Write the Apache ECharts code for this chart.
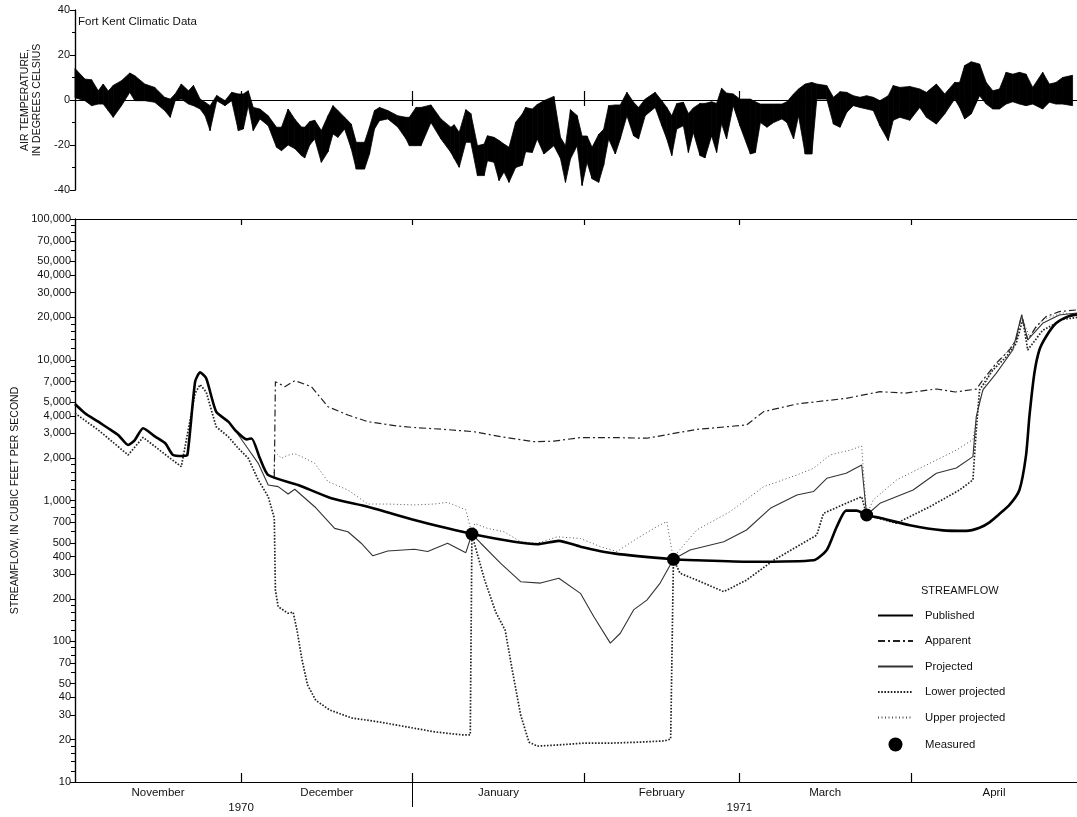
<!DOCTYPE html>
<html>
<head>
<meta charset="utf-8">
<title>Fort Kent streamflow</title>
<script src="https://cdn.jsdelivr.net/npm/echarts@6.0.0/dist/echarts.min.js"></script>
<style>
html, body { margin: 0; padding: 0; background: #fff; }
#main { width: 1077px; height: 817px; }
</style>
</head>
<body>
<div id="main"></div>
<script type="text/javascript">
// x is counted in days from 1 November 1970
var monthEdges = [30, 61, 92, 120, 151];
var monthMids = [15, 45.5, 76.5, 106, 135.5, 166];
var monthNames = ['November', 'December', 'January', 'February', 'March', 'April'];
var yearBreak = [61];
var yearPos = [30, 120];
var yearNames = ['1970', '1971'];

// log axis ticks
var flowLabels = [10, 20, 30, 40, 50, 70, 100, 200, 300, 400, 500, 700, 1000, 2000, 3000, 4000, 5000, 7000,
    10000, 20000, 30000, 40000, 50000, 70000, 100000];
var minorFactors = [1.2, 1.4, 1.6, 1.8, 6, 8, 9];
var decades = [10, 100, 1000, 10000];

// air temperature, daily max / min (deg C)
var tempDay = [0, 1.8, 3.0, 4.2, 5.1, 6.0, 6.9, 8.4, 9.9, 10.8,
    12.6, 14.4, 16.2, 17.2, 18.1, 19.2, 20.5, 21.4, 22.6, 23.5,
    24.4, 25.6, 27.1, 28.3, 29.5, 30.4, 31.3, 32.2, 33.4, 34.9,
    36.4, 37.3, 38.5, 39.7, 40.9, 41.5, 42.4, 43.3, 44.5, 45.7,
    46.6, 47.5, 48.7, 49.9, 50.8, 52.3, 53.2, 54.1, 55.0, 56.5,
    58.3, 59.8, 60.4, 61.6, 62.5, 64.3, 66.1, 67.9, 68.5, 69.4,
    70.6, 71.5, 72.7, 73.9, 74.5, 75.7, 76.6, 77.5, 78.4, 79.6,
    80.8, 81.4, 82.6, 83.5, 84.7, 86.5, 87.7, 88.6, 89.5, 90.7,
    91.6, 92.5, 93.4, 94.6, 95.5, 96.4, 97.6, 98.5, 99.7, 100.9,
    101.8, 103.0, 104.8, 106.0, 106.9, 107.8, 108.7, 109.9, 110.8, 111.7,
    112.9, 113.8, 115.0, 115.9, 116.8, 117.7, 118.9, 120.1, 122.0, 122.9,
    123.8, 125.0, 126.2, 127.7, 128.6, 129.8, 130.7, 131.9, 133.1, 134.0,
    135.8, 137.0, 138.2, 139.4, 140.6, 141.8, 143.0, 144.2, 145.4, 146.9,
    147.8, 149.0, 150.8, 152.6, 153.8, 155.6, 157.1, 158.9, 159.8, 160.7,
    161.9, 163.4, 164.6, 165.8, 167.0, 168.2, 169.4, 170.6, 171.8, 173.0,
    174.8, 176.0, 177.2, 178.4, 180.2];
var tempMax = [14, 9.3, 9, 4.1, 7.1, 4, 6.5, 8.6, 12, 10.8,
    7.1, 5.6, 1.2, 0.4, 2.7, 7.1, 4.1, 6.5, 0.4, -1,
    -2.5, 2, -0.3, 3.4, 2.7, 2.7, 4.1, -3.3, -4, -7,
    -12.1, -12.1, -4, -8.5, -12, -12.1, -9.6, -9, -13.6, -7,
    -2.5, -4.7, -7.7, -10.7, -18.8, -18.8, -12, -4.7, -3.3, -4.7,
    -7, -7.7, -7.7, -3.3, -3.3, -2.2, -8.4, -12.1, -11, -14.4,
    -4.3, -6, -20.3, -19.6, -15.9, -16.6, -18, -19.6, -21, -9.9,
    -6.2, -3.3, -4, -2, -0.3, 1.6, -16.6, -20.3, -4.3, -6.9,
    -16, -16, -21, -15.3, -13, -2.5, -2.2, -2.2, 3.4, -1,
    -3.3, 0.4, 3.4, -0.3, -3.3, -7, -1.6, -1, -6, -3.5,
    -1.5, -1.5, -0.8, -1.5, 5.2, 3.1, 2.7, 0.4, 0.4, -0.8,
    -1.8, -1.8, -1.8, -1.8, -0.8, 2.7, 4.9, 7.1, 7.8, 7.1,
    6.4, 1.2, 3.7, 3.4, 1.9, 1.2, 1.9, 1.2, -0.3, 1.9,
    6.4, 5.6, 6, 4.9, 3.4, 7.1, 2.7, 7.8, 7.8, 15.3,
    17, 16, 7.8, 4.1, 4.9, 12.3, 11.5, 12.3, 11.5, 5.6,
    12.3, 7.1, 7.8, 10, 11];
var tempMin = [1, -0.3, -2.5, -1.8, -1.8, -4.7, -7.7, -2.5, 3.4, -0.3,
    -0.3, -1, -4.7, -7.7, -0.3, 0.4, -1.8, -2.5, -4, -7,
    -13.6, -0.3, -2.5, -0.3, -13.6, -12.9, -2.5, -13.6, -8.4, -11.4,
    -21, -22.5, -20, -21.6, -24.7, -25.7, -20, -17.3, -27.7, -23,
    -15.1, -16.6, -12.9, -21.6, -30.7, -30.7, -24, -12.9, -9.2, -8.4,
    -12, -17.3, -20.3, -20.3, -20.3, -10, -17.3, -23.3, -26, -29.9,
    -18.8, -18.8, -33.6, -33.6, -27, -27.7, -35.8, -32, -36.6, -30,
    -29, -23, -23.3, -17.3, -24, -20.3, -26, -36.6, -26.2, -20.3,
    -38, -27.7, -35, -36.6, -29, -17.3, -24, -17.3, -7, -15.9,
    -17.3, -7, -3.3, -11.4, -17.3, -24.7, -12.9, -11.4, -23.3, -14.4,
    -24.7, -25.7, -15.9, -23.3, -10.4, -17.3, -2.5, -11.4, -24, -23.3,
    -10, -12.1, -10, -8.4, -10, -17.3, -7, -24, -24, 0.4,
    0.4, -10.7, -12.1, -5.5, -2.5, -3.3, -4, -4.7, -11.4, -18,
    -9, -7.7, -9, -3.3, -7.7, -10.7, -6.2, 0.4, -3.3, -8.4,
    -6.2, 1.9, -1.8, -4, -4, -1.8, -0.8, -1.8, -2.5, -1.8,
    -4, -1, -1.8, -1.8, -2.5];

// streamflow, cubic feet per second
var pubDay = [0, 1.8, 4.2, 6.0, 7.8, 9.6, 10.8, 12.3, 14.5, 16.3,
    17.7, 19.5, 20.3, 21.7, 22.6, 23.7, 25.5, 27.7, 28.9, 31.0,
    31.9, 33.4, 34.9, 40.3, 46.3, 52.9, 61.3, 67.3, 71.7, 79.3,
    83.5, 87.4, 91.3, 97.3, 108.1, 112.3, 121.9, 133.4, 135.8, 137.6,
    139.3, 141.2, 143.0, 145.5, 150.8, 156.8, 161.0, 163.4, 165.2, 166.8,
    168.8, 170.6, 171.8, 172.4, 173.3, 174.2, 175.4, 177.2, 179.3, 181];
var pubQ = [4850, 4170, 3630, 3260, 2920, 2480, 2690, 3260, 2840, 2550,
    2106, 2070, 2100, 6990, 8130, 7380, 4280, 3630, 3170, 2720,
    2760, 1995, 1517, 1289, 1037, 903, 727, 634, 578, 509,
    489, 517, 470, 421, 382, 376, 367, 376, 445, 651,
    847, 847, 789, 750, 667, 613, 608, 640, 700, 790,
    930, 1188, 2100, 3940, 8010, 11730, 14580, 18150, 20240, 21000];

var appDay = [36.0, 36.2, 37.9, 39.7, 42.7, 45.7, 49.3, 52.9, 58.3, 61.3,
    66.7, 72.1, 76.9, 82.9, 86.5, 91.3, 97.3, 103.3, 112.3, 121.3,
    124.4, 130.4, 139.3, 145.4, 150.0, 155.6, 159.0, 162.8, 164.0, 166.4,
    168.8, 170.0, 171.0, 172.1, 173.6, 175.4, 177.8, 181];
var appQ = [1480, 6980, 6440, 7100, 6440, 4640, 4050, 3630, 3380, 3300,
    3200, 3080, 2840, 2620, 2640, 2800, 2800, 2770, 3200, 3440,
    4280, 4850, 5320, 5930, 5800, 6200, 5900, 6180, 7180, 9440,
    11730, 13820, 20800, 13820, 17180, 20240, 21970, 22600];

var projDay = [28.9, 31.0, 33.1, 34.9, 36.7, 38.5, 39.7, 43.3, 46.9, 49.3,
    51.7, 53.8, 56.5, 61.3, 63.7, 67.3, 70.6, 71.7, 73.3, 76.9,
    80.5, 84.1, 87.4, 91.3, 93.7, 96.7, 98.5, 100.9, 103.3, 105.7,
    108.1, 111.1, 117.2, 121.3, 125.6, 130.4, 133.4, 135.8, 139.3, 142.1,
    143.0, 145.4, 151.4, 155.6, 159.2, 162.2, 162.8, 164.0, 166.4, 169.4,
    171.0, 172.1, 174.8, 177.8, 181];
var projQ = [3170, 2410, 1837, 1289, 1254, 1112, 1202, 903, 634, 600,
    497, 405, 438, 450, 434, 497, 426, 578, 497, 358,
    265, 259, 280, 219, 150, 97, 114, 167, 196, 259,
    382, 445, 509, 617, 880, 1094, 1157, 1438, 1560, 1786,
    789, 955, 1188, 1560, 1700, 2050, 3940, 6100, 8010, 11730,
    20800, 13820, 18150, 20800, 21500];

var lowDay = [0, 4.2, 9.6, 12.3, 16.8, 19.2, 21.7, 22.6, 23.7, 25.5,
    27.7, 29.5, 31.3, 33.1, 34.9, 36.0, 36.2, 36.7, 38.5, 39.4,
    40.1, 41.0, 42.0, 43.5, 46.0, 50.0, 55.0, 60.0, 65.0, 70.0,
    71.4, 71.7, 72.3, 74.0, 76.0, 77.7, 79.0, 80.5, 82.0, 83.5,
    87.0, 92.0, 97.0, 102.0, 106.5, 107.6, 108.1, 109.3, 112.3, 117.2,
    121.3, 126.2, 130.4, 134.0, 135.2, 139.3, 142.1, 143.0, 148.4, 154.4,
    159.8, 162.2, 162.8, 163.4, 165.8, 168.2, 170.0, 171.2, 172.1, 174.8,
    178.4, 181];
var lowQ = [4170, 3170, 2106, 2810, 2050, 1740, 5780, 6660, 5900, 3340,
    2840, 2350, 1995, 1400, 1064, 750, 231, 176, 158, 161,
    120, 74, 49, 38, 32.5, 28.5, 26.7, 24.6, 22.7, 21.6,
    21.6, 578, 470, 272, 161, 120, 62, 30, 19.2, 18,
    18.3, 18.9, 18.9, 19.2, 19.6, 20.2, 382, 304, 272, 225,
    272, 376, 470, 568, 810, 955, 1064, 789, 689, 903,
    1188, 1400, 3170, 6100, 8450, 10480, 13030, 19300, 11730, 16200,
    19300, 20000];

var upDay = [35.9, 36.1, 37.3, 38.5, 39.7, 41.5, 43.3, 45.7, 49.3, 52.9,
    56.5, 61.3, 64.9, 67.3, 70.6, 71.7, 72.2, 74.5, 77.5, 80.5,
    83.5, 87.1, 91.3, 94.9, 97.9, 101.5, 105.1, 106.9, 108.1, 108.7,
    112.3, 118.3, 124.4, 130.4, 133.4, 136.4, 140.0, 142.1, 143.0, 144.2,
    148.4, 154.4, 159.2, 162.2, 163.4, 165.2, 167.6, 170.0, 171.0, 172.4,
    174.8, 178.4, 181];
var upQ = [1480, 2220, 1995, 2100, 2150, 2000, 1837, 1361, 1188, 944,
    944, 930, 944, 970, 860, 578, 687, 634, 600, 509,
    497, 552, 537, 470, 434, 537, 651, 709, 382, 421,
    617, 832, 1254, 1517, 1694, 2106, 2280, 2440, 789, 1010,
    1400, 1837, 2280, 2710, 5180, 8010, 10480, 13820, 20240, 14580,
    19300, 21500, 21000];

var measDay = [71.7, 108.1, 143.0];
var measQ = [578, 382, 789];

var chart = echarts.init(document.getElementById('main'));
var font = 'Liberation Sans, Arial, sans-serif';
var ink = '#111';

function pairs(xs, ys) {
    return xs.map(function (x, i) { return [x, ys[i]]; });
}
function commas(v) {
    return String(v).replace(/\B(?=(\d{3})+(?!\d))/g, ',');
}
var flowMinor = [];
decades.forEach(function (d) {
    minorFactors.forEach(function (f) { flowMinor.push(Math.round(d * f)); });
});

var axisInk = { lineStyle: { color: '#000', width: 1.2 } };
var noLabel = { show: false };

function monthAxis(grid, pos, len) {
    return {
        type: 'value', gridIndex: grid, position: pos, min: 0, max: 181,
        axisLine: axisInk, splitLine: { show: false },
        axisTick: { customValues: monthEdges, inside: true, length: len, lineStyle: { color: '#000', width: 1.2 } },
        axisLabel: noLabel
    };
}

var xTop0 = monthAxis(0, 'top', 6);
var xBot0 = monthAxis(0, 'bottom', 9);
var xTop1 = monthAxis(1, 'top', 6);
var xBot1 = monthAxis(1, 'bottom', 9);
xBot1.axisLabel = {
    customValues: monthMids, margin: 5, fontSize: 11.5, color: ink, fontFamily: font,
    formatter: function (v) { return monthNames[monthMids.indexOf(v)]; }
};
var xYear = {
    type: 'value', gridIndex: 1, position: 'bottom', min: 0, max: 181,
    axisLine: { show: false }, splitLine: { show: false },
    axisTick: { customValues: yearBreak, inside: false, length: 25, lineStyle: { color: '#000', width: 1 } },
    axisLabel: {
        customValues: yearPos, margin: 20, fontSize: 11.5, color: ink, fontFamily: font,
        formatter: function (v) { return yearNames[yearPos.indexOf(v)]; }
    }
};

// line entries in the legend show only the line sample, not a marker
var hideMarker = { opacity: 0 };

var option = {
    animation: false,
    backgroundColor: '#fff',
    textStyle: { fontFamily: font },
    title: [
        { text: 'Fort Kent Climatic Data', left: 78, top: 16, padding: 0,
          textStyle: { fontSize: 11.5, fontWeight: 'normal', color: ink, fontFamily: font } },
        { text: 'STREAMFLOW', left: 921, top: 585, padding: 0,
          textStyle: { fontSize: 11, fontWeight: 'normal', color: ink, fontFamily: font } }
    ],
    legend: {
        orient: 'vertical', left: 877, top: 610, padding: 0,
        itemWidth: 35, itemHeight: 14, itemGap: 14.3,
        textStyle: { fontSize: 11.3, color: ink, fontFamily: font, padding: [0, 0, 0, 7] },
        data: [
            { name: 'Published', itemStyle: hideMarker },
            { name: 'Apparent', itemStyle: hideMarker },
            { name: 'Projected', itemStyle: hideMarker },
            { name: 'Lower projected', itemStyle: hideMarker },
            { name: 'Upper projected', itemStyle: hideMarker },
            { name: 'Measured' }
        ]
    },
    grid: [
        { left: 75, right: -4, top: 10, height: 180 },
        { left: 75, right: -4, top: 219, height: 563 }
    ],
    xAxis: [xBot0, xTop0, xBot1, xYear, xTop1],
    yAxis: [
        {
            type: 'value', gridIndex: 0, min: -40, max: 40, interval: 20,
            axisLine: axisInk, splitLine: { show: false },
            axisTick: { inside: false, length: 4, lineStyle: { color: '#000' } },
            minorTick: { show: true, splitNumber: 2, length: 3, lineStyle: { color: '#000' } },
            axisLabel: { fontSize: 11, color: ink, margin: 5, fontFamily: font },
            name: 'AIR TEMPERATURE,\nIN DEGREES CELSIUS', nameLocation: 'middle', nameGap: 31, nameRotate: 90,
            nameTextStyle: { fontSize: 10.5, lineHeight: 12, color: ink, fontFamily: font }
        },
        {
            type: 'value', gridIndex: 0, position: 'right', min: -40, max: 40, interval: 20,
            axisLine: axisInk, splitLine: { show: false },
            axisTick: { inside: true, length: 5, lineStyle: { color: '#000' } },
            axisLabel: noLabel
        },
        {
            type: 'log', logBase: 10, gridIndex: 1, min: 10, max: 100000,
            axisLine: axisInk, splitLine: { show: false },
            axisTick: { customValues: flowLabels, inside: false, length: 5, lineStyle: { color: '#000' } },
            axisLabel: { customValues: flowLabels, fontSize: 11, color: ink, margin: 4, fontFamily: font,
                formatter: function (v) { return commas(v); } },
            name: 'STREAMFLOW, IN CUBIC FEET PER SECOND', nameLocation: 'middle', nameGap: 50, nameRotate: 90,
            nameTextStyle: { fontSize: 10.5, color: ink, fontFamily: font }
        },
        {
            type: 'log', logBase: 10, gridIndex: 1, min: 10, max: 100000,
            axisLine: { show: false }, splitLine: { show: false },
            axisTick: { customValues: flowMinor, inside: true, length: 4, lineStyle: { color: '#000' } },
            axisLabel: noLabel
        },
        {
            type: 'log', logBase: 10, gridIndex: 1, position: 'right', min: 10, max: 100000,
            axisLine: axisInk, splitLine: { show: false },
            axisTick: { customValues: flowLabels, inside: true, length: 5, lineStyle: { color: '#000' } },
            axisLabel: noLabel
        }
    ],
    series: [
        {
            name: 'Air temperature', type: 'custom', xAxisIndex: 0, yAxisIndex: 0,
            data: tempDay.map(function (d, i) { return [d, tempMax[i], tempMin[i]]; }),
            encode: { x: 0, y: [1, 2] },
            renderItem: function (params, api) {
                var i = params.dataIndex;
                if (i >= tempDay.length - 1) return null;
                var pts = [
                    api.coord([tempDay[i], tempMax[i]]),
                    api.coord([tempDay[i + 1], tempMax[i + 1]]),
                    api.coord([tempDay[i + 1], tempMin[i + 1]]),
                    api.coord([tempDay[i], tempMin[i]])
                ];
                return { type: 'polygon', shape: { points: pts },
                    style: { fill: '#000', stroke: '#000', lineWidth: 0.8 } };
            },
            markLine: {
                silent: true, symbol: 'none', label: { show: false },
                lineStyle: { color: '#000', width: 1.2, type: 'solid' },
                data: [{ yAxis: 0 }]
            }
        },
        {
            name: 'Lower projected', type: 'line', xAxisIndex: 2, yAxisIndex: 2,
            data: pairs(lowDay, lowQ), symbol: 'none', color: '#222',
            lineStyle: { color: '#222', width: 1.7, type: [1.6, 1.6] }
        },
        {
            name: 'Upper projected', type: 'line', xAxisIndex: 2, yAxisIndex: 2,
            data: pairs(upDay, upQ), symbol: 'none', color: '#555',
            lineStyle: { color: '#555', width: 1, type: [1, 2.5] }
        },
        {
            name: 'Apparent', type: 'line', xAxisIndex: 2, yAxisIndex: 2,
            data: pairs(appDay, appQ), symbol: 'none', color: '#222',
            lineStyle: { color: '#222', width: 1.2, type: [7, 3, 2, 3] }
        },
        {
            name: 'Projected', type: 'line', xAxisIndex: 2, yAxisIndex: 2,
            data: pairs(projDay, projQ), symbol: 'none', color: '#333',
            lineStyle: { color: '#333', width: 1.1 }
        },
        {
            name: 'Published', type: 'line', xAxisIndex: 2, yAxisIndex: 2,
            data: pairs(pubDay, pubQ), symbol: 'none', smooth: 0.2, color: '#000',
            lineStyle: { color: '#000', width: 2.6 }
        },
        {
            name: 'Measured', type: 'scatter', xAxisIndex: 2, yAxisIndex: 2,
            data: pairs(measDay, measQ), symbol: 'circle', symbolSize: 13,
            itemStyle: { color: '#000', opacity: 1 }, z: 5
        }
    ]
};

chart.setOption(option);
</script>
</body>
</html>
